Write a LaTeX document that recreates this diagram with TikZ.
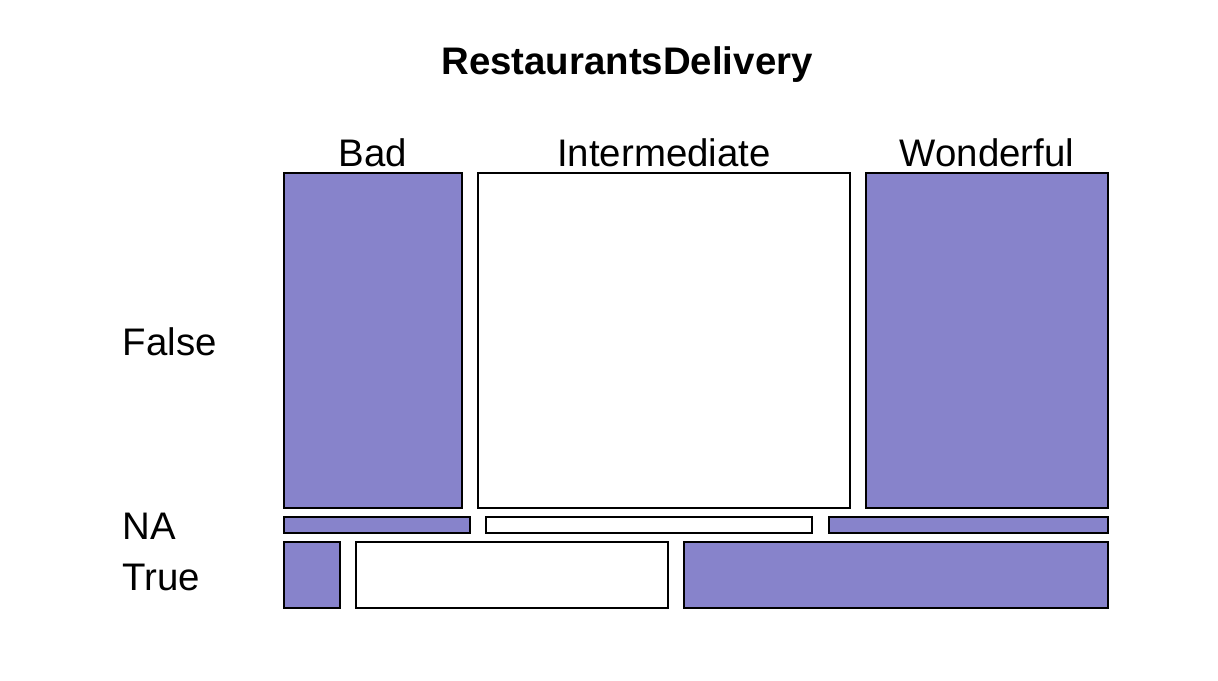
\documentclass[tikz,border=0pt]{standalone}
\usepackage{fontspec}
\setmainfont{Liberation Sans}
\definecolor{tile}{RGB}{135,131,203}
\begin{document}
\begin{tikzpicture}[x=0.5bp, y=-0.5bp, line width=0.75bp,
        lbl/.style={inner sep=0pt, font=\fontsize{19.2bp}{23bp}\selectfont},
        ttl/.style={inner sep=0pt, font=\fontsize{19.2bp}{23bp}\selectfont\bfseries}]
        \useasboundingbox (0, 0) rectangle (1218, 680);
        \begin{scope}
            % False row
            \filldraw [fill=tile] (284, 173) rectangle (462, 508);
            \draw (478, 173) rectangle (850, 508);
            \filldraw [fill=tile] (866, 173) rectangle (1108, 508);

            % NA row
            \filldraw [fill=tile] (284, 517) rectangle (470, 533);
            \draw (486, 517) rectangle (812, 533);
            \filldraw [fill=tile] (829, 517) rectangle (1108, 533);

            % True row
            \filldraw [fill=tile] (284, 542) rectangle (340, 608);
            \draw (356, 542) rectangle (668, 608);
            \filldraw [fill=tile] (684, 542) rectangle (1108, 608);

            \node [ttl] (title) at (627, 65) {RestaurantsDelivery};

            \node [lbl] (bad) at (373, 153) {Bad};
            \node [lbl] (inter) at (664, 153) {Intermediate};
            \node [lbl] (wonder) at (987, 153) {Wonderful};

            \node [lbl, anchor=west] (false) at (122, 342) {False};
            \node [lbl, anchor=west] (na) at (122, 526) {NA};
            \node [lbl, anchor=west] (true) at (122, 577) {True};
        \end{scope}
    \end{tikzpicture}
\end{document}
